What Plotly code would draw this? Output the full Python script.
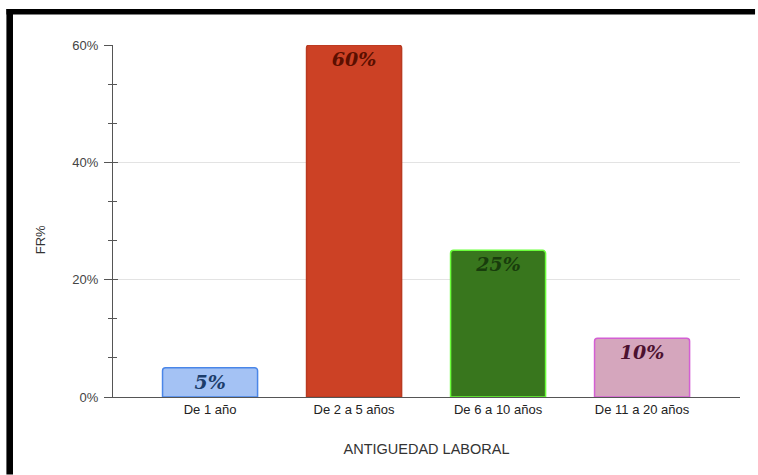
import plotly.graph_objects as go

# Distribución por antigüedad laboral (frecuencia relativa, %)
categorias = ["De 1 año", "De 2 a 5 años", "De 6 a 10 años", "De 11 a 20 años"]
porcentajes = [5, 60, 25, 10]
etiquetas = ["5%", "60%", "25%", "10%"]

relleno = ["#a4c2f4", "#cc4125", "#38761d", "#d5a6bd"]
borde = ["#4a86e8", "#b93a20", "#6aff3a", "#d35fd3"]
color_texto = ["#1c3d6b", "#5b0f00", "#183d0c", "#4c1130"]

y_ticks = [0, 20, 40, 60]
y_tick_text = ["0%", "20%", "40%", "60%"]

fig = go.Figure()
fig.add_trace(go.Bar(
    x=categorias,
    y=porcentajes,
    text=etiquetas,
    textposition="inside",
    insidetextanchor="end",
    constraintext="none",
    textangle=0,
    textfont=dict(family="DejaVu Serif", size=19, color=color_texto,
                  weight="bold", style="italic"),
    marker=dict(color=relleno, line=dict(color=borde, width=1.5), cornerradius=3),
    width=0.66,
    hoverinfo="skip",
))

# second, overlaid y axis only carries the inward half of the tick marks
fig.add_trace(go.Scatter(x=[categorias[0]], y=[0], yaxis="y2", mode="markers",
                         marker=dict(opacity=0), showlegend=False, hoverinfo="skip"))

eje_color = "#555555"
fig.update_layout(
    width=758, height=475,
    margin=dict(l=113, r=18, t=45, b=78),
    paper_bgcolor="white", plot_bgcolor="white",
    showlegend=False,
    font=dict(family="Liberation Sans, Arial, sans-serif", size=13, color="#333"),
    xaxis=dict(
        range=[-0.674, 3.68],
        showline=True, linecolor=eje_color, linewidth=1.3,
        ticks="", tickfont=dict(size=13, color="#222"),
        title=dict(text="ANTIGUEDAD LABORAL", font=dict(size=14.5, color="#333"), standoff=28),
        showgrid=False, zeroline=False, fixedrange=True,
    ),
    yaxis=dict(
        range=[0, 60],
        tickvals=y_ticks, ticktext=y_tick_text,
        showline=True, linecolor=eje_color, linewidth=1.3,
        ticks="outside", ticklen=8, tickcolor=eje_color, tickwidth=1.3,
        ticklabelstandoff=3,
        minor=dict(dtick=20 / 3, ticks="outside", ticklen=4, tickcolor=eje_color,
                   tickwidth=1.3, showgrid=False),
        tickfont=dict(size=13, color="#444"),
        showgrid=True, gridcolor="#e3e3e3", gridwidth=1.2,
        zeroline=False, fixedrange=True,
    ),
    yaxis2=dict(
        overlaying="y", side="left", anchor="x", range=[0, 60],
        tickvals=y_ticks, showticklabels=False,
        ticks="inside", ticklen=5, tickcolor=eje_color, tickwidth=1.3,
        minor=dict(dtick=20 / 3, ticks="inside", ticklen=4, tickcolor=eje_color,
                   tickwidth=1.3, showgrid=False),
        showgrid=False, zeroline=False, showline=False, fixedrange=True,
    ),
    annotations=[dict(
        text="FR%", textangle=-90, xref="paper", yref="paper",
        x=-0.116, y=0.446, xanchor="center", yanchor="middle", showarrow=False,
        font=dict(size=13, color="#333"),
    )],
    shapes=[
        # black frame along the top and left edges
        dict(type="rect", xref="paper", yref="paper", x0=-0.17, x1=1.024,
             y0=1.0866, y1=1.1023, fillcolor="black", line=dict(width=0), layer="above"),
        dict(type="rect", xref="paper", yref="paper", x0=-0.17, x1=-0.1595,
             y0=-0.22, y1=1.1023, fillcolor="black", line=dict(width=0), layer="above"),
    ],
)

fig.write_html("out.html", config={"displayModeBar": False})
